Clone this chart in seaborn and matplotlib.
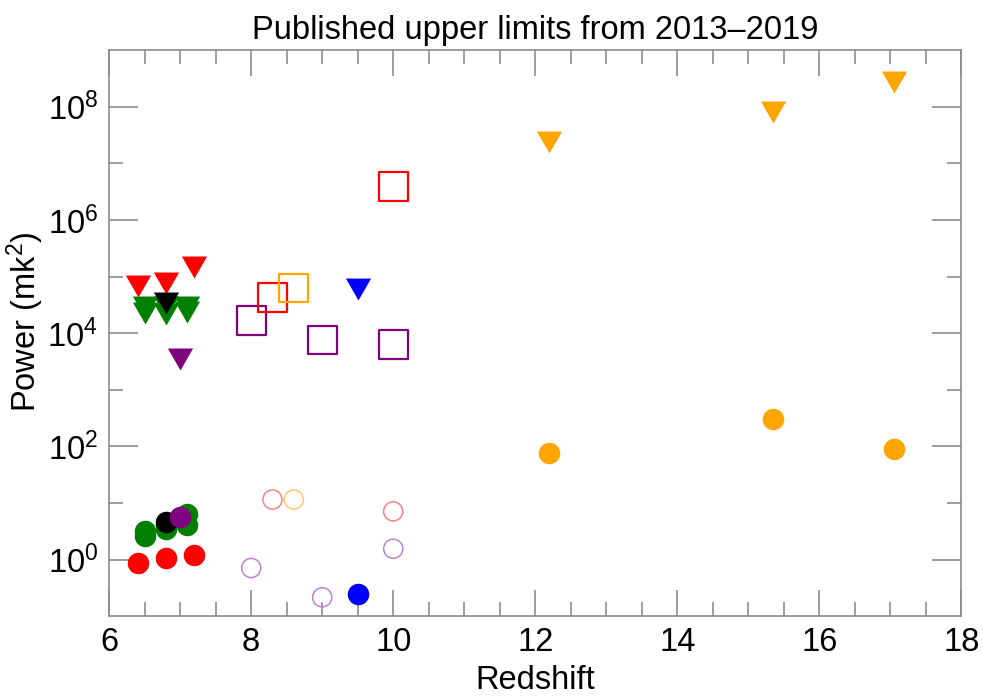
import numpy as np
import matplotlib
matplotlib.use("Agg")
import matplotlib.pyplot as plt
import seaborn as sns
from matplotlib.ticker import FixedLocator, LogFormatterMathtext, MultipleLocator, NullFormatter

# data (redshift, power in mK^2)
tri_red_x = [6.4, 6.8, 7.2]
tri_red_y = [6.7e4, 7.8e4, 1.5e5]
tri_green_x = [6.5, 6.5, 6.8, 6.8, 7.1, 7.1]
tri_green_y = [2.9e4, 2.3e4, 2.9e4, 2.2e4, 2.9e4, 2.4e4]
tri_black_x = [6.8]
tri_black_y = [3.4e4]
tri_purple_x = [7.0]
tri_purple_y = [3.5e3]
tri_blue_x = [9.5]
tri_blue_y = [6.0e4]
tri_orange_x = [12.2, 15.35, 17.05]
tri_orange_y = [2.4e7, 8.0e7, 2.7e8]

sq_purple_x = [8.0, 9.0, 10.0]
sq_purple_y = [1.7e4, 7.6e3, 6.3e3]
sq_red_x = [8.3, 10.0]
sq_red_y = [4.2e4, 3.9e6]
sq_orange_x = [8.6]
sq_orange_y = [6.3e4]

circ_red_x = [6.4, 6.8, 7.2]
circ_red_y = [0.86, 1.07, 1.18]
circ_green_x = [6.5, 6.5, 6.8, 6.8, 7.1, 7.1]
circ_green_y = [3.2, 2.6, 4.0, 3.4, 6.3, 4.0]
circ_black_x = [6.8]
circ_black_y = [4.6]
circ_purple_x = [7.0]
circ_purple_y = [5.6]
circ_blue_x = [9.5]
circ_blue_y = [0.25]
circ_orange_x = [12.2, 15.35, 17.05]
circ_orange_y = [75, 300, 89]

open_salmon_x = [8.3, 10.0]
open_salmon_y = [11.5, 7.1]
open_lorange_x = [8.6]
open_lorange_y = [11.5]
open_plum_x = [8.0, 9.0, 10.0]
open_plum_y = [0.71, 0.215, 1.55]

y_major = [1e0, 1e2, 1e4, 1e6, 1e8]
y_minor = [1e1, 1e3, 1e5, 1e7]

sns.set_style("ticks")
plt.rcParams['font.family'] = ['Liberation Sans', 'DejaVu Sans']
plt.rcParams['mathtext.fontset'] = 'custom'
plt.rcParams['mathtext.rm'] = 'Liberation Sans'
plt.rcParams['mathtext.it'] = 'Liberation Sans:italic'
plt.rcParams['text.color'] = 'black'
plt.rcParams['axes.labelcolor'] = 'black'

fig = plt.figure(figsize=(9.83, 6.97), dpi=100)
ax = fig.add_axes([0.111, 0.116, 0.867, 0.812])

# downward triangle, a bit wider than tall
tri = [(-1, 0.87), (1, 0.87), (0, -0.87)]

filled_tri = [(tri_red_x, tri_red_y, 'red'),
              (tri_green_x, tri_green_y, 'green'),
              (tri_black_x, tri_black_y, 'black'),
              (tri_purple_x, tri_purple_y, 'purple'),
              (tri_blue_x, tri_blue_y, 'blue'),
              (tri_orange_x, tri_orange_y, 'orange')]
for xs, ys, c in filled_tri:
    sns.scatterplot(x=xs, y=ys, marker=tri, s=330, color=c, linewidth=0, ax=ax, zorder=3)

squares = [(sq_purple_x, sq_purple_y, 'purple'),
           (sq_red_x, sq_red_y, 'red'),
           (sq_orange_x, sq_orange_y, 'orange')]
for xs, ys, c in squares:
    sns.scatterplot(x=xs, y=ys, marker='s', s=430, color=c, facecolor='none',
                    edgecolor=c, linewidth=1.6, ax=ax, zorder=3)

filled_circ = [(circ_red_x, circ_red_y, 'red'),
               (circ_green_x, circ_green_y, 'green'),
               (circ_black_x, circ_black_y, 'black'),
               (circ_purple_x, circ_purple_y, 'purple'),
               (circ_blue_x, circ_blue_y, 'blue'),
               (circ_orange_x, circ_orange_y, 'orange')]
for xs, ys, c in filled_circ:
    sns.scatterplot(x=xs, y=ys, marker='o', s=240, color=c, linewidth=0, ax=ax, zorder=3)

open_circ = [(open_salmon_x, open_salmon_y, '#ff8080'),
             (open_lorange_x, open_lorange_y, '#ffc870'),
             (open_plum_x, open_plum_y, '#c080d0')]
for xs, ys, c in open_circ:
    sns.scatterplot(x=xs, y=ys, marker='o', s=190, color=c, facecolor='none',
                    edgecolor=c, linewidth=1.1, ax=ax, zorder=3)

ax.set_yscale('log')
ax.set_xlim(6, 18)
ax.set_ylim(1e-1, 1e9)

ax.xaxis.set_major_locator(MultipleLocator(2))
ax.xaxis.set_minor_locator(MultipleLocator(0.5))
ax.yaxis.set_major_locator(FixedLocator(y_major))
ax.yaxis.set_major_formatter(LogFormatterMathtext())
ax.yaxis.set_minor_locator(FixedLocator(y_minor))
ax.yaxis.set_minor_formatter(NullFormatter())

gray = '#8c8c8c'
for sp in ax.spines.values():
    sp.set_visible(True)
    sp.set_color(gray)
    sp.set_linewidth(1.2)
ax.tick_params(which='both', direction='in', top=True, right=True, color=gray,
               width=1.2, labelsize=23.5, labelcolor='black', pad=8)
ax.tick_params(axis='y', which='major', length=21)
ax.tick_params(axis='y', which='minor', length=10)
ax.tick_params(axis='x', which='major', length=19)
ax.tick_params(axis='x', which='minor', length=10)

ax.set_xlabel('Redshift', fontsize=23.5, labelpad=5, color='black')
ax.set_ylabel('Power (mk$^2$)', fontsize=23.5, color='black')
ax.yaxis.set_label_coords(-0.074, 0.52)
ax.set_title('Published upper limits from 2013\u20132019', fontsize=23.5, pad=8, color='black')

fig.savefig('out.png', dpi=100)
